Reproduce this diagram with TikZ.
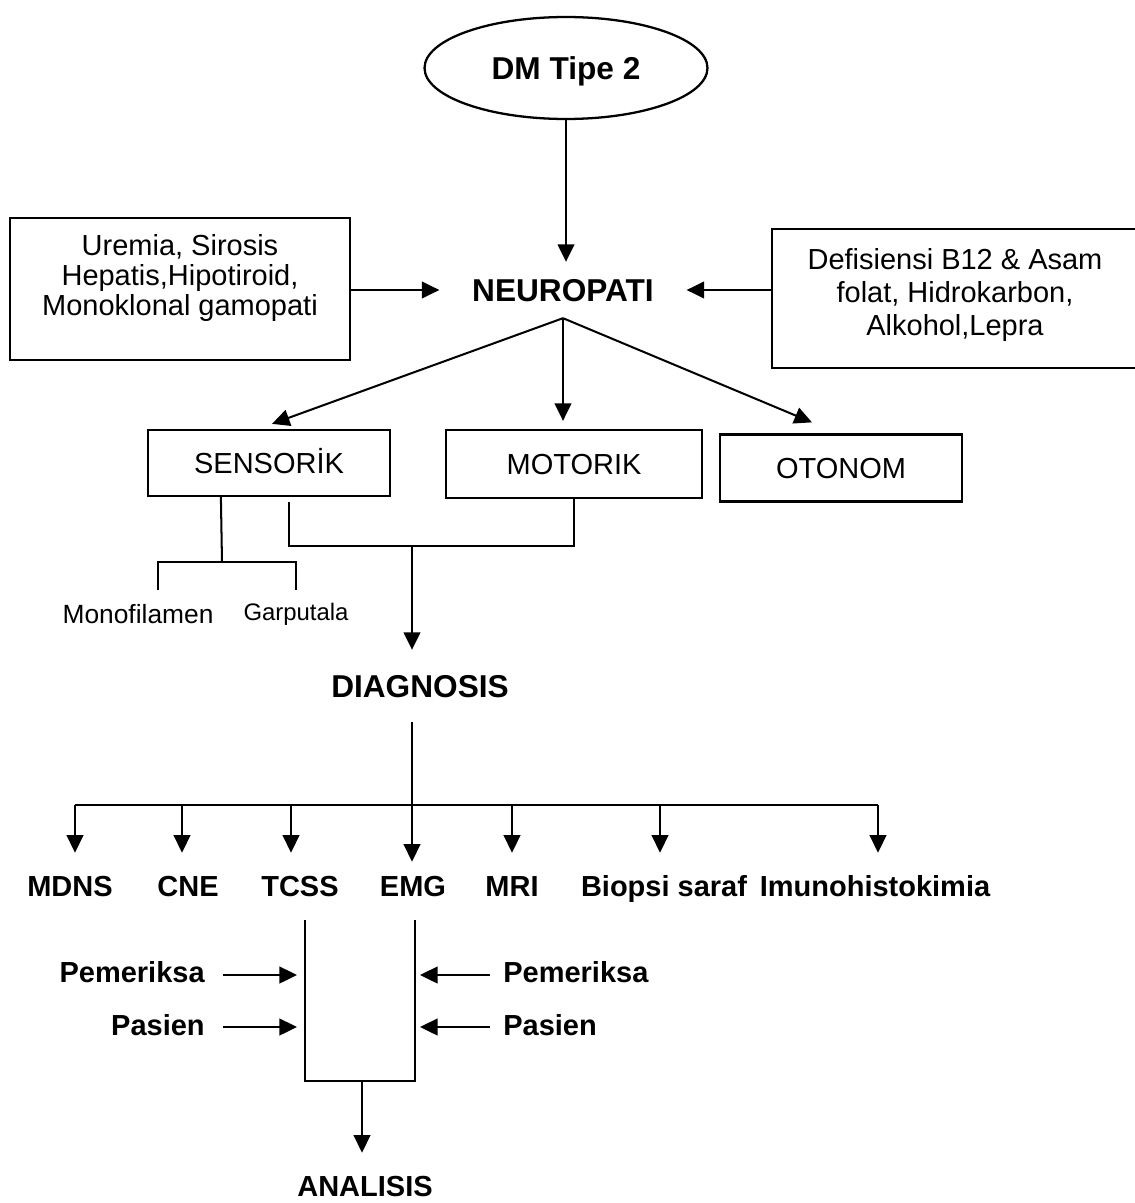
\documentclass[tikz,border=0pt]{standalone}
\usepackage{fontspec}
\setmainfont{Liberation Sans}
\usetikzlibrary{arrows.meta,shapes.geometric,calc}
\begin{document}
\begin{tikzpicture}[x=0.02cm,y=-0.02cm,
  ln/.style={line width=1.15pt},
  arr/.style={ln,-{Triangle[length=10pt,width=9.5pt]}},
  boxs/.style={draw,line width=1.3pt,inner sep=0pt},
  reg/.style={font=\fontsize{16.5}{19}\selectfont,align=center,inner sep=0pt},
  regone/.style={reg,text height=11.9pt,text depth=0pt},
  bld/.style={font=\fontsize{16.5}{19}\selectfont\bfseries,inner sep=0pt,text height=11.9pt,text depth=0pt},
  big/.style={font=\fontsize{18}{21}\selectfont\bfseries,inner sep=0pt,text height=12.9pt,text depth=0pt},
  lab/.style={bld,inner ysep=0.45cm},
  small/.style={font=\fontsize{15}{17}\selectfont,inner sep=0pt,text height=10.8pt,text depth=0pt},
]
\useasboundingbox (0,0) rectangle (1135,1203);

% top
\node[draw,ellipse,line width=1.3pt,minimum width=5.66cm,minimum height=2.04cm,big] (dm) at (566,68) {DM Tipe 2};
\node[big,inner xsep=0.65cm,inner ysep=0.33cm] (neuro) at (563,290) {NEUROPATI};
\draw[arr] (dm.south) -- (dm.south |- neuro.north);

% side boxes
\node[boxs,minimum width=6.8cm,minimum height=2.84cm] (lbox) at (180,289) {};
\node[reg,font=\fontsize{16.5}{16.9}\selectfont] (lboxt) at (180,278) {Uremia, Sirosis\\Hepatis,Hipotiroid,\\Monoklonal gamopati};
\node[boxs,minimum width=7.52cm,minimum height=2.78cm] (rbox) at (960,298.5) {};
\node[reg,font=\fontsize{16.5}{18.8}\selectfont] (rboxt) at (955,295) {Defisiensi B12 \& Asam\\folat, Hidrokarbon,\\Alkohol,Lepra};
\draw[arr] (lbox.east |- neuro) -- (neuro.west);
\draw[arr] (rbox.west |- neuro) -- (neuro.east);

% types
\node[boxs,regone,minimum width=4.84cm,minimum height=1.32cm] (sens) at (269,463) {SENSORİK};
\node[boxs,regone,minimum width=5.12cm,minimum height=1.36cm] (mot) at (574,464) {MOTORIK};
\node[boxs,regone,minimum width=4.84cm,minimum height=1.34cm] (oto) at (841,468) {OTONOM};
\draw[arr] (neuro.south) -- ($(sens.north)+(3,-5)$);
\draw[arr] (neuro.south) -- (neuro.south |- {$(mot.north)+(0,-8)$});
\draw[arr] (neuro.south) -- ($(oto.north)+(-29,-11)$);

% sensorik tests
\node[small] (mono) at (138,614) {Monofilamen};
\node[small,font=\fontsize{13.6}{16}\selectfont,text height=9.8pt] (garp) at (296,612) {Garputala};
\coordinate (s1) at ($(sens.south west)+(74,0)$);
\coordinate (s2) at (222,562);
\coordinate (c1) at (158,590);
\coordinate (c2) at (296,590);
\draw[ln] (s1) -- (s2);
\draw[ln] (c1) |- (s2) -| (c2);

% join to diagnosis
\node[big,inner ysep=0.49cm] (diag) at (420,686) {DIAGNOSIS};
\coordinate (j1) at (289,502);
\coordinate (jm) at (412,546);
\draw[ln] (j1) |- (jm) -| (mot.south);
\draw[arr] (jm) -- (jm |- diag.north);

% diagnosis methods
\node[lab] (mdns) at (70,886) {MDNS};
\node[lab] (cne) at (188,886) {CNE};
\node[lab] (tcss) at (300,886) {TCSS};
\node[lab] (emg) at (413,886) {EMG};
\node[lab] (mri) at (512,886) {MRI};
\node[lab] (bio) at (664,886) {Biopsi saraf};
\node[lab] (imu) at (875,886) {Imunohistokimia};
\coordinate (t1) at (75,805);
\coordinate (t2) at (182,805);
\coordinate (t3) at (291,805);
\coordinate (t5) at (512,805);
\coordinate (t6) at (660,805);
\coordinate (t7) at (878,805);
\draw[ln] (t1) -- (t7);
\foreach \t/\n in {t1/mdns,t2/cne,t3/tcss,t5/mri,t6/bio,t7/imu}
  \draw[arr] (\t) -- (\t |- \n.north);
\draw[arr,shorten >=-0.18cm] (jm |- diag.south) -- (jm |- emg.north);

% analysis bracket
\coordinate (b1) at (305,920);
\coordinate (b2) at (305,1081);
\coordinate (b3) at (415,1081);
\coordinate (b4) at (415,920);
\draw[ln] (b1) -- (b2) -- (b3) -- (b4);
\node[bld,inner ysep=0.45cm] (ana) at (365,1186) {ANALISIS};
\coordinate (am) at (362,1081);
\draw[arr] (am) -- (am |- ana.north);

\node[bld,inner xsep=0.36cm,anchor=east] (pl1) at (223,972) {Pemeriksa};
\node[bld,inner xsep=0.36cm,anchor=east] (pl2) at (223,1025) {Pasien};
\node[bld,inner xsep=0.26cm,anchor=west] (pr1) at (490,972) {Pemeriksa};
\node[bld,inner xsep=0.26cm,anchor=west] (pr2) at (490,1025) {Pasien};
\draw[arr,shorten >=0.16cm] ($(pl1.east)+(0,3)$) -- ($(pl1.east -| b1)+(0,3)$);
\draw[arr,shorten >=0.16cm] ($(pl2.east)+(0,2)$) -- ($(pl2.east -| b2)+(0,2)$);
\draw[arr,shorten >=0.1cm] ($(pr1.west)+(0,3)$) -- ($(pr1.west -| b4)+(0,3)$);
\draw[arr,shorten >=0.1cm] ($(pr2.west)+(0,2)$) -- ($(pr2.west -| b3)+(0,2)$);
\end{tikzpicture}
\end{document}
